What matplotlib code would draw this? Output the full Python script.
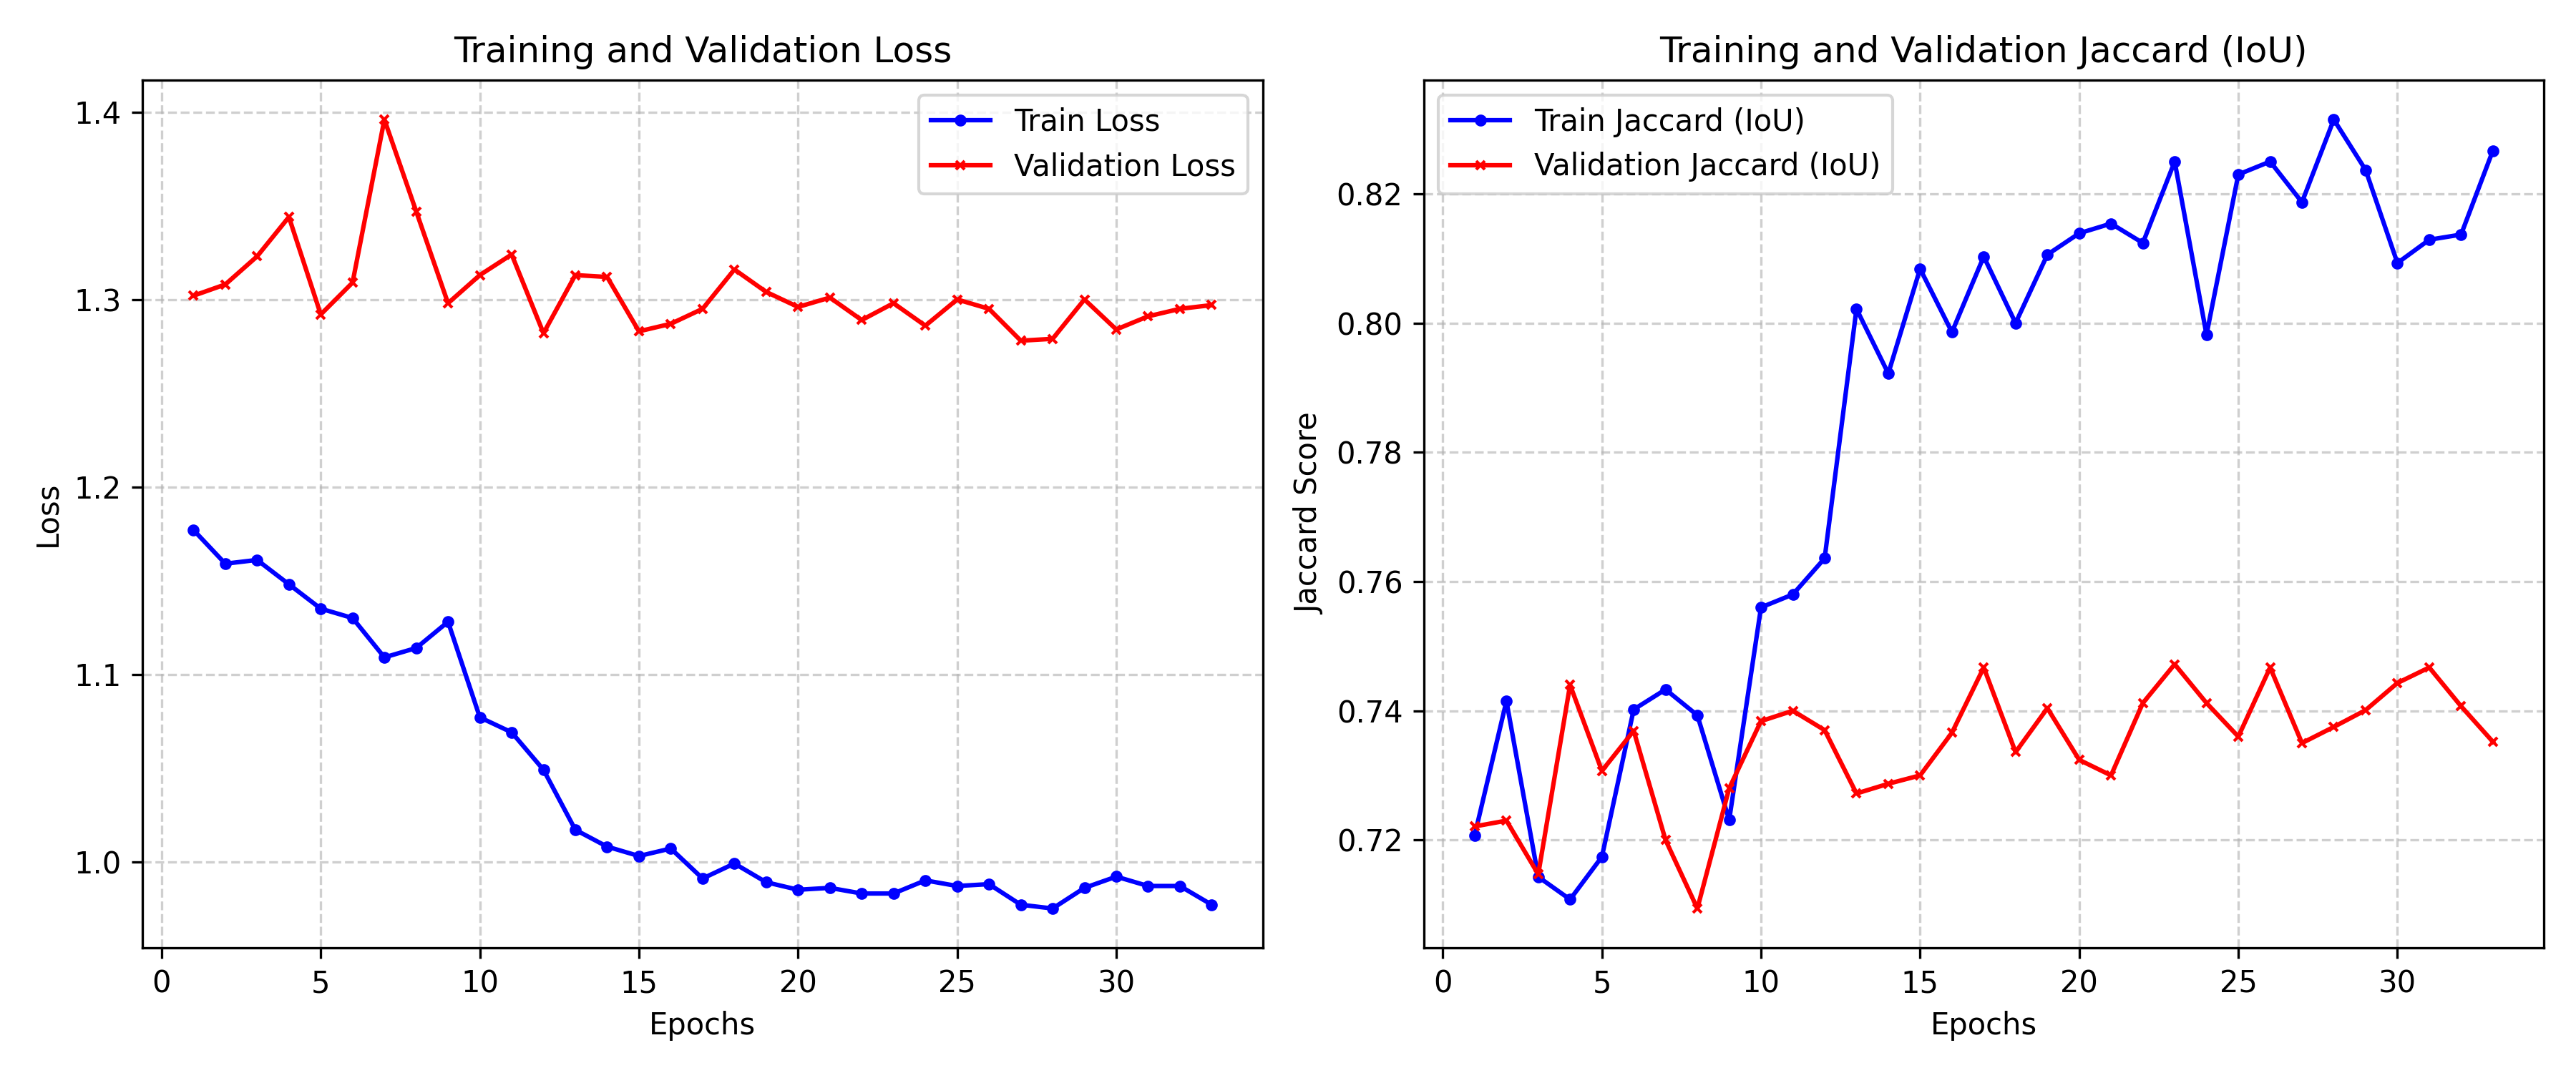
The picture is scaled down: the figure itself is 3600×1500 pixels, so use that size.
import matplotlib
matplotlib.use('Agg')
import matplotlib.pyplot as plt

epochs = list(range(1, 34))

train_loss = [1.177, 1.159, 1.161, 1.148, 1.135, 1.130, 1.109, 1.114, 1.128, 1.077,
              1.069, 1.049, 1.017, 1.008, 1.003, 1.007, 0.991, 0.999, 0.989, 0.985,
              0.986, 0.983, 0.983, 0.990, 0.987, 0.988, 0.977, 0.975, 0.986, 0.992,
              0.987, 0.987, 0.977]
val_loss = [1.302, 1.308, 1.323, 1.344, 1.292, 1.309, 1.396, 1.347, 1.298, 1.313,
            1.324, 1.282, 1.313, 1.312, 1.283, 1.287, 1.295, 1.316, 1.304, 1.296,
            1.301, 1.289, 1.298, 1.286, 1.300, 1.295, 1.278, 1.279, 1.300, 1.284,
            1.291, 1.295, 1.297]

train_iou = [0.7207, 0.7415, 0.7143, 0.7108, 0.7174, 0.7402, 0.7433, 0.7393, 0.7231, 0.7560,
             0.7580, 0.7636, 0.8022, 0.7922, 0.8084, 0.7986, 0.8103, 0.8000, 0.8106, 0.8139,
             0.8154, 0.8124, 0.8250, 0.7982, 0.8230, 0.8250, 0.8187, 0.8315, 0.8237, 0.8093,
             0.8129, 0.8137, 0.8267]
val_iou = [0.7221, 0.7230, 0.7147, 0.7440, 0.7307, 0.7369, 0.7200, 0.7094, 0.7280, 0.7384,
           0.7400, 0.7370, 0.7272, 0.7287, 0.7300, 0.7366, 0.7467, 0.7336, 0.7404, 0.7324,
           0.7300, 0.7412, 0.7472, 0.7412, 0.7360, 0.7467, 0.7350, 0.7375, 0.7401, 0.7443,
           0.7467, 0.7407, 0.7352]

plt.figure(figsize=(12, 5))

plt.subplot(1, 2, 1)
plt.plot(epochs, train_loss, label='Train Loss', color='blue', marker='o', markersize=3)
plt.plot(epochs, val_loss, label='Validation Loss', color='red', marker='x', markersize=3)
plt.title('Training and Validation Loss')
plt.xlabel('Epochs')
plt.ylabel('Loss')
plt.legend()
plt.grid(True, linestyle='--', alpha=0.6)

plt.subplot(1, 2, 2)
plt.plot(epochs, train_iou, label='Train Jaccard (IoU)', color='blue', marker='o', markersize=3)
plt.plot(epochs, val_iou, label='Validation Jaccard (IoU)', color='red', marker='x', markersize=3)
plt.title('Training and Validation Jaccard (IoU)')
plt.xlabel('Epochs')
plt.ylabel('Jaccard Score')
plt.legend()
plt.grid(True, linestyle='--', alpha=0.6)

plt.tight_layout()
plt.savefig('out.png', dpi=300)
